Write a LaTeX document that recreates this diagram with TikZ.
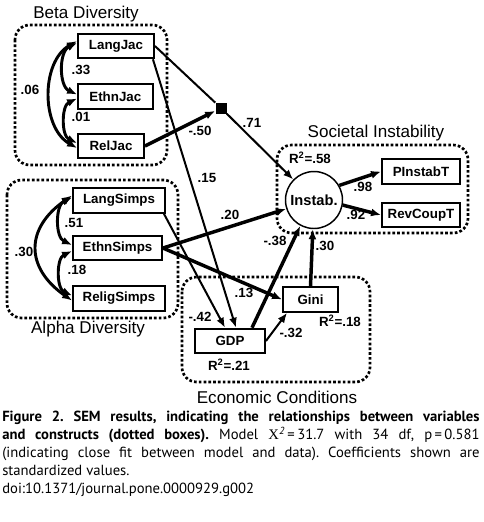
\documentclass[tikz,border=0pt]{standalone}
\usepackage{fontspec}
\setmainfont{Liberation Sans}
\newfontfamily\capfont{PT Sans}
\newfontfamily\chifont{Liberation Serif}
\usetikzlibrary{arrows.meta,calc,positioning}

\begin{document}
\begin{tikzpicture}[x=0.75pt,y=0.75pt,>={Latex[length=7.5pt,width=6pt]}]
  \tikzstyle{varbox}=[draw,fill=white,line width=1.4pt,minimum height=18.5pt,inner sep=1pt,font=\fontsize{10}{12}\selectfont\bfseries]
  \tikzstyle{construct}=[line width=2pt,dash pattern=on 2pt off 1.6pt,rounded corners=11pt]
  \tikzstyle{ctitle}=[inner sep=0pt,font=\fontsize{12.8}{15}\selectfont]
  \tikzstyle{coef}=[inner sep=0pt,font=\fontsize{10}{12}\selectfont\bfseries]
  \tikzstyle{eff}=[line width=1.5pt,->]
  \tikzstyle{strong}=[line width=2.6pt,->]
  \tikzstyle{cov}=[line width=2.2pt,<->]
  \useasboundingbox (0,0) rectangle (484,-522);

  \draw[construct] (15,-25) rectangle (167,-165);
  \node[ctitle] (betat) at (86,-14) {Beta Diversity};
  \node[varbox,minimum width=57pt] (langjac) at (116,-46) {LangJac};
  \node[varbox,minimum width=56pt,below=18pt of langjac.south west,anchor=north west] (ethnjac) {EthnJac};
  \node[varbox,minimum width=49.5pt,below=17.25pt of ethnjac.south west,anchor=north west] (reljac) {RelJac};
  \draw[cov] ($(langjac.west)+(0,3)$) to[out=205,in=155] ($(ethnjac.west)+(0,2)$);
  \draw[cov] ($(ethnjac.west)+(0,-2)$) to[out=205,in=155] ($(reljac.west)+(0,3)$);
  \draw[cov] ($(langjac.west)+(0,5)$) to[out=210,in=150] ($(reljac.west)+(0,-2)$);
  \node[coef] (c33) at (81,-70) {.33};
  \node[coef] (c01) at (81,-117) {.01};
  \node[coef] (c06) at (30,-90) {.06};

  \draw[construct] (7,-180) rectangle (178,-318);
  \node[ctitle] (alphat) at (88,-329) {Alpha Diversity};
  \node[varbox,minimum width=69pt] (langsimps) at (119,-200.5) {LangSimps};
  \node[varbox,minimum width=66.75pt,below=15.75pt of langsimps.south west,anchor=north west] (ethnsimps) {EthnSimps};
  \node[varbox,minimum width=69pt,below=18pt of ethnsimps.south west,anchor=north west] (religsimps) {ReligSimps};
  \draw[cov] ($(langsimps.west)+(0,3)$) to[out=205,in=155] ($(ethnsimps.west)+(0,3)$);
  \draw[cov] ($(ethnsimps.west)+(0,-3)$) to[out=205,in=155] ($(religsimps.west)+(0,3)$);
  \draw[cov] ($(langsimps.west)+(0,5)$) to[out=215,in=145,looseness=1.4] ($(religsimps.west)+(0,-2)$);
  \node[coef] (c51) at (74,-223) {.51};
  \node[coef] (c18) at (77,-270) {.18};
  \node[coef] (c30) at (24,-252) {.30};

  \draw[construct] (277,-145) rectangle (468,-233);
  \node[ctitle] (soct) at (376,-133) {Societal Instability};
  \node[draw,fill=white,circle,line width=1.1pt,minimum size=42.75pt,inner sep=0pt,font=\fontsize{11}{13}\selectfont\bfseries] (instab) at (314,-200) {Instab.};
  \node[coef] (r58) at (310,-158) {R\textsuperscript{2}=.58};
  \node[varbox,minimum width=58.5pt] (pinst) at (421,-171.5) {PInstabT};
  \node[varbox,minimum width=58.5pt,below=12.75pt of pinst] (revc) {RevCoupT};

  \draw[construct] (182,-277) rectangle (370,-382);
  \node[ctitle] (econt) at (277,-397) {Economic Conditions};
  \node[varbox,minimum width=41.25pt] (gini) at (310.5,-299.5) {Gini};
  \node[varbox,minimum width=52.5pt] (gdp) at (230,-341) {GDP};
  \node[coef] (r18) at (340,-321) {R\textsuperscript{2}=.18};
  \node[coef] (r21) at (229,-365) {R\textsuperscript{2}=.21};

  \node[fill=black,minimum size=8.25pt,inner sep=0pt] (sq) at (221,-108) {};

  \draw[eff,-] (langjac.east) -- (sq);
  \draw[strong] (reljac.east) -- (sq);
  \draw[eff] (sq) -- (instab);
  \draw[eff] ($(langjac.south east)+(-2,0)$) -- ($(gdp.north)+(6,0)$);
  \draw[eff] ($(langsimps.south east)+(-2,0)$) -- ($(gdp.north)+(-5,0)$);
  \draw[strong] (ethnsimps.east) -- (instab);
  \draw[strong] (ethnsimps.east) -- (gini.west);
  \draw[strong] ($(gdp.north)+(22,0)$) -- (instab.-118);
  \draw[strong] (gini.north) -- (instab);
  \draw[eff] (gdp.east) -- ($(gini.south west)+(5,0)$);
  \draw[strong] (instab.30) -- (pinst.west);
  \draw[strong] (instab.-10) -- (revc.west);

  \node[coef] (c50) at (200,-131) {-.50};
  \node[coef] (c71) at (252,-123) {.71};
  \node[coef] (c15) at (207,-178) {.15};
  \node[coef] (c20) at (230,-215) {.20};
  \node[coef] (c98) at (363,-187) {.98};
  \node[coef] (c92) at (356,-215) {.92};
  \node[coef] (c38) at (275,-241) {-.38};
  \node[coef] (c30b) at (325,-246) {.30};
  \node[coef] (c13) at (244,-293) {.13};
  \node[coef] (c42) at (200,-317) {-.42};
  \node[coef] (c32) at (291,-333) {-.32};

  \node[anchor=north west,text width=358pt,align=justify,inner sep=0pt,font=\capfont\fontsize{11}{13.5}\selectfont\frenchspacing] (caption) at (2,-411) {\textbf{Figure 2. SEM results, indicating the relationships between variables\linebreak and constructs (dotted boxes).} Model {\chifont X}\textsuperscript{\itshape 2}\,=\,31.7 with 34 df, p\,=\,0.581\linebreak (indicating close fit between model and data). Coefficients shown are\linebreak standardized values.\\ doi:10.1371/journal.pone.0000929.g002};
\end{tikzpicture}
\end{document}
